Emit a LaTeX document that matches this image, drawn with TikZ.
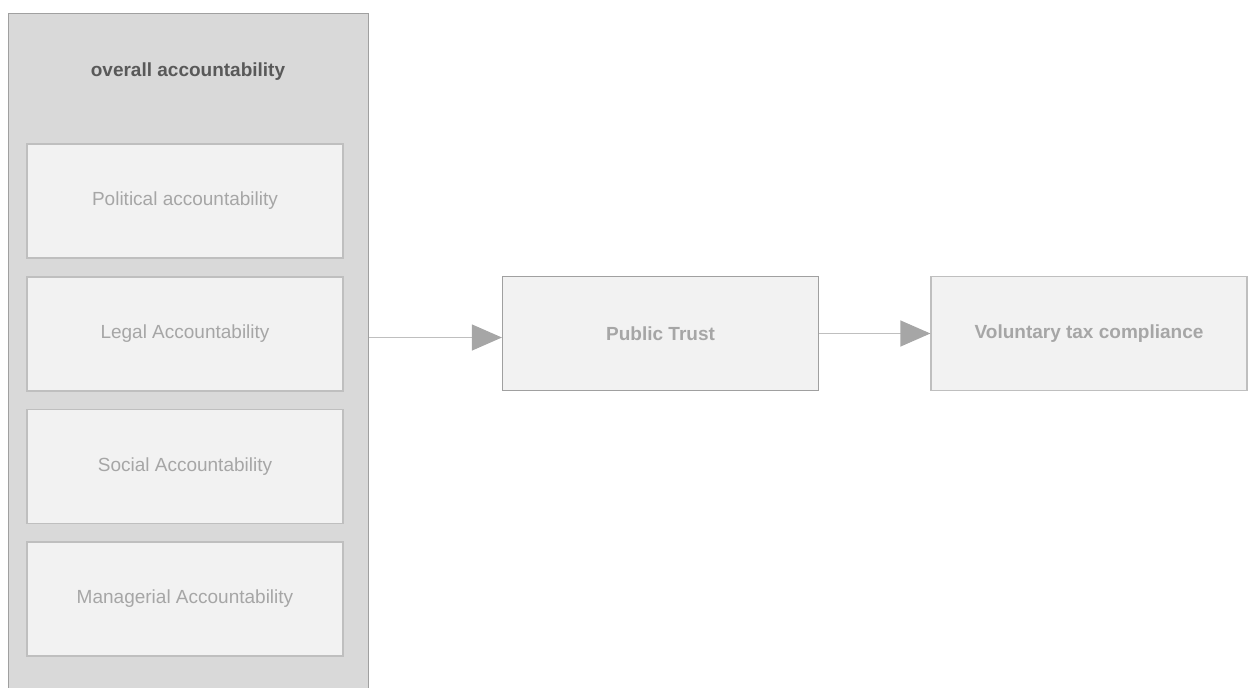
\documentclass[tikz,border=0pt]{standalone}
\usepackage{fontspec}
\setmainfont{Liberation Sans}
\usepackage{xcolor}
\usetikzlibrary{arrows.meta}

\definecolor{outerfill}{HTML}{D9D9D9}
\definecolor{outerline}{HTML}{A0A0A0}
\definecolor{boxfill}{HTML}{F2F2F2}
\definecolor{boxline}{HTML}{BFBFBF}
\definecolor{textgray}{HTML}{A6A6A6}
\definecolor{titlegray}{HTML}{595959}

\tikzset{
  group/.style={draw=outerline, fill=outerfill, line width=1.2pt, anchor=north west,
    minimum width=360pt, minimum height=700pt},
  item/.style={draw=boxline, fill=boxfill, line width=1.2pt,
    minimum width=316pt, minimum height=114pt, text=textgray,
    font=\fontsize{19}{23}\selectfont},
  result/.style={item, draw=outerline, font=\fontsize{19}{23}\selectfont\bfseries},
  link/.style={draw=boxline, line width=1.2pt,
    -{Triangle[length=30pt,width=26pt,fill=textgray,color=textgray]}}
}

\begin{document}
\begin{tikzpicture}[x=1pt,y=-1pt]
\useasboundingbox (0,0) rectangle (1251,688);
\node[group]          (O) at (8,13)        {};
\node[text=titlegray, font=\fontsize{19}{23}\selectfont\bfseries]
                      (T) at (188,72)      {overall accountability};
  \node[item]         (P) at (185,201)     {Political accountability};
  \node[item]         (L) at (185,334)     {Legal Accountability};
  \node[item]         (S) at (185,466.5)   {Social Accountability};
  \node[item]         (M) at (185,599)     {Managerial Accountability};
  \node[result]       (R) at (660.5,333.5) {Public Trust};
  \node[result, draw=boxline] (V) at (1089,333.5) {Voluntary tax compliance};
\coordinate (o) at (O.east |- 0,337.5);

  \path
        (o) edge[link]        node {} (R.west |- o)
        (R) edge[link]        node {} (V);
\end{tikzpicture}
\end{document}
